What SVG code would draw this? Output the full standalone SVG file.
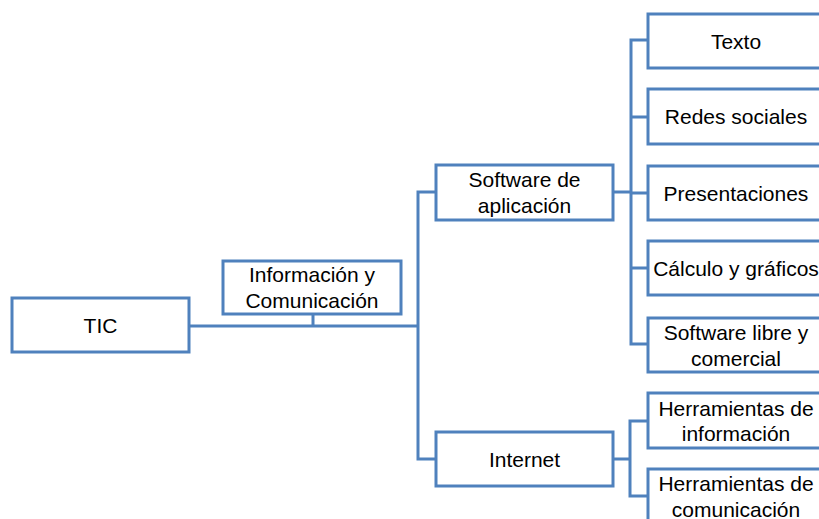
<svg xmlns="http://www.w3.org/2000/svg" width="819" height="519" viewBox="0 0 819 519">
<style>
.b{fill:#fff;stroke:#4F81BD;stroke-width:3}
.c{fill:none;stroke:#4F81BD;stroke-width:3}
text{font-family:"Liberation Sans",Arial,sans-serif;font-size:21px;fill:#000;text-anchor:middle}
</style>
<rect width="819" height="519" fill="#fff"/>
<g id="connectors">
<path class="c" d="M189,326 H418 M313,314 V326"/>
<path class="c" d="M436,192 H418 V459 H436"/>
<path class="c" d="M613,192 H631 M648,40 H631 V344 H648 M631,117 H648 M631,193 H648 M631,268 H648"/>
<path class="c" d="M613,459 H630 M648,421 H630 V496 H648"/>
</g>
<g id="tic"><rect class="b" x="12" y="298" width="177" height="54"/><text x="100.5" y="332.5">TIC</text></g>
<g id="info"><rect class="b" x="223" y="261" width="178" height="53"/><text x="312" y="282">Información y</text><text x="312" y="308">Comunicación</text></g>
<g id="software"><rect class="b" x="436" y="165" width="177" height="55"/><text x="524.5" y="187">Software de</text><text x="524.5" y="213">aplicación</text></g>
<g id="internet"><rect class="b" x="436" y="432" width="177" height="54"/><text x="524.5" y="466.5">Internet</text></g>
<g id="texto"><rect class="b" x="648" y="14" width="177" height="54"/><text x="736" y="48.5">Texto</text></g>
<g id="redes"><rect class="b" x="648" y="89" width="177" height="55"/><text x="736" y="124">Redes sociales</text></g>
<g id="presentaciones"><rect class="b" x="648" y="166" width="177" height="54"/><text x="736" y="200.5">Presentaciones</text></g>
<g id="calculo"><rect class="b" x="648" y="241" width="177" height="54"/><text x="736" y="275.5">Cálculo y gráficos</text></g>
<g id="libre"><rect class="b" x="648" y="318" width="177" height="54"/><text x="736" y="339.5">Software libre y</text><text x="736" y="365.5">comercial</text></g>
<g id="herr-info"><rect class="b" x="648" y="393" width="177" height="55"/><text x="736" y="416">Herramientas de</text><text x="736" y="441">información</text></g>
<g id="herr-com"><rect class="b" x="648" y="469" width="177" height="54"/><text x="736" y="491">Herramientas de</text><text x="736" y="516.5">comunicación</text></g>
</svg>
